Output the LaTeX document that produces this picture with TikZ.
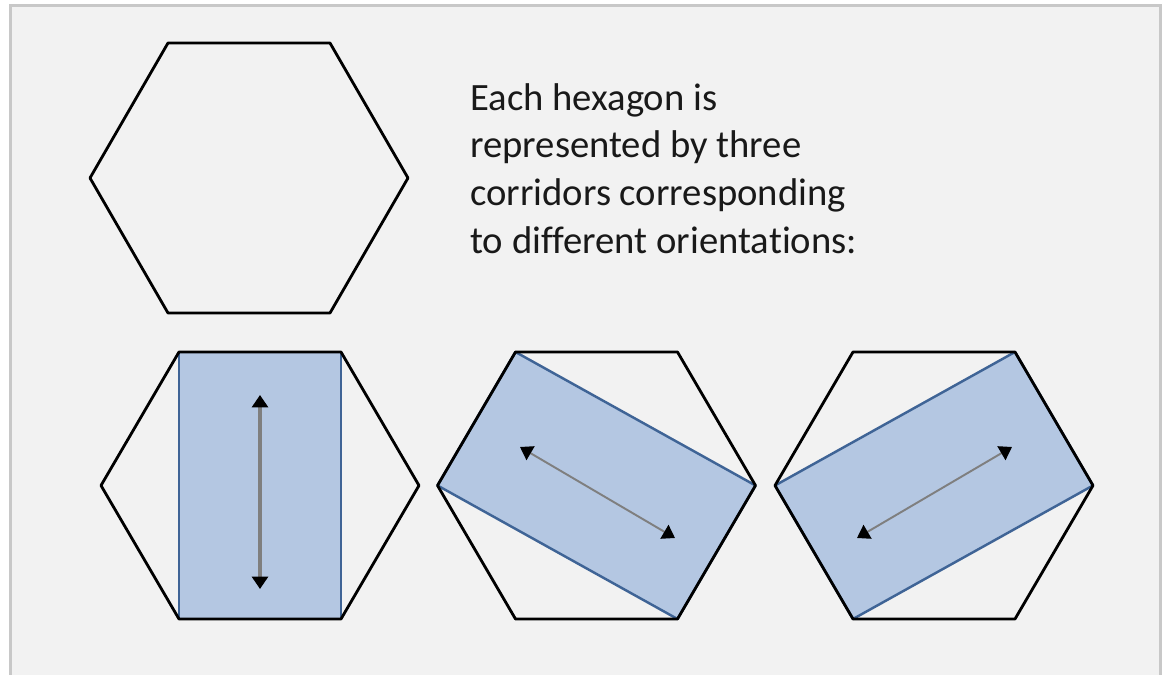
\documentclass[tikz,border=0pt]{standalone}
\usepackage{fontspec}
\newfontfamily\capfont[Ligatures=NoCommon]{Carlito}
\usetikzlibrary{arrows.meta}
\definecolor{panelgray}{HTML}{F2F2F2}
\definecolor{framegray}{HTML}{C8C8C8}
\definecolor{corridorfill}{HTML}{B4C7E2}
\definecolor{corridorline}{HTML}{3F6496}
\definecolor{axisgray}{HTML}{7F7F7F}

\begin{document}
\begin{tikzpicture}[
    x=0.02cm, y=-0.02cm,
    hexagon/.style={draw=black, line width=1.6pt, line join=round},
    corridor/.style={draw=corridorline, fill=corridorfill, line width=1.4pt, line join=round},
    axis/.style={{Triangle[width=9pt,length=7pt,color=black]}-{Triangle[width=9pt,length=7pt,color=black]},
                 draw=axisgray, line width=1.1pt},
    caption/.style={font=\capfont\fontsize{22}{27.2}\selectfont, text=black!90,
                    align=left, inner sep=0pt, anchor=north west}
]
    \useasboundingbox (0,0) rectangle (1164,675);
    \fill[white] (0,0) rectangle (1164,675);
    \draw[framegray, fill=panelgray, line width=1.6pt] (10.5,5.5) rectangle (1160.5,700);

    % hexagon corners: 1 top right, 2 top left, 3 left, 4 bottom left, 5 bottom right, 6 right
    \foreach \h/\cx/\cy/\hh in {top/249/178/135, a/260/485.5/133.5, b/596.5/485.5/133.5, c/934/485.5/133.5} {
        \coordinate (\h-1) at (\cx+81,\cy-\hh);
        \coordinate (\h-2) at (\cx-81,\cy-\hh);
        \coordinate (\h-3) at (\cx-159,\cy);
        \coordinate (\h-4) at (\cx-81,\cy+\hh);
        \coordinate (\h-5) at (\cx+81,\cy+\hh);
        \coordinate (\h-6) at (\cx+159,\cy);
    }

    % corridors
    \draw[corridor] (a-2) -- (a-1) -- (a-5) -- (a-4) -- cycle;
    \draw[corridor] (b-2) -- (b-6) -- (b-5) -- (b-3) -- cycle;
    \draw[corridor] (c-1) -- (c-6) -- (c-4) -- (c-3) -- cycle;

    \foreach \h in {top, a, b, c}
        \draw[hexagon] (\h-1) -- (\h-2) -- (\h-3) -- (\h-4) -- (\h-5) -- (\h-6) -- cycle;

    % orientations
    \coordinate (a-up) at (260,395);
    \coordinate (a-down) at (260,589);
    \coordinate (b-nw) at (520,447);
    \coordinate (b-se) at (675,538);
    \coordinate (c-ne) at (1012,447);
    \coordinate (c-sw) at (857,538);
    \draw[axis, line width=1.8pt] (a-up) -- (a-down);
    \draw[axis] (b-nw) -- (b-se);
    \draw[axis] (c-ne) -- (c-sw);

    \node[caption] (caption) at (470,83) {Each hexagon is\\represented by three\\corridors corresponding\\to different orientations:};
\end{tikzpicture}
\end{document}
